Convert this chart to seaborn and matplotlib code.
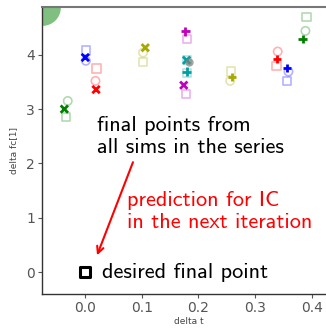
import matplotlib
matplotlib.use("Agg")
import matplotlib.pyplot as plt
import seaborn as sns
import pandas as pd

sns.set_theme(style="ticks")

# ---- data ----
series_colors = ["g", "b", "r", "y", "m", "c"]
palette = {"g": "#008000", "b": "#0000ff", "r": "#ff0000",
           "y": "#a8a800", "m": "#bf00bf", "c": "#00a0a0"}

# first set of sims (final points drawn as 'x')
x_final_x = [-0.037, 0.000, 0.019, 0.106, 0.174, 0.179]
y_final_x = [3.00, 3.95, 3.36, 4.13, 3.44, 3.90]
# second set of sims (final points drawn as '+')
x_final_p = [0.384, 0.357, 0.339, 0.259, 0.177, 0.179]
y_final_p = [4.29, 3.76, 3.92, 3.59, 4.43, 3.69]

# light open circles
circ_colors = ["g", "b", "r", "y", "g", "b", "r", "y"]
x_circ = [-0.031, 0.001, 0.018, 0.102, 0.389, 0.359, 0.340, 0.256]
y_circ = [3.15, 3.89, 3.52, 4.04, 4.44, 3.69, 4.06, 3.52]

# light open squares
sq_colors = ["g", "b", "r", "y", "m", "c", "g", "b", "r", "y", "m", "c"]
x_sq = [-0.034, 0.001, 0.020, 0.102, 0.178, 0.180, 0.391, 0.356, 0.338, 0.257, 0.180, 0.180]
y_sq = [2.86, 4.08, 3.75, 3.87, 3.28, 3.90, 4.70, 3.52, 3.79, 3.69, 4.29, 3.67]

# gray mean point
x_mean = [0.184]
y_mean = [3.86]

# desired final point
x_target = [0.0]
y_target = [0.0]

# big green circle in the corner
x_big = [-0.0765]
y_big = [4.88]

xlim = (-0.0765, 0.443)
ylim = (-0.41, 4.88)
xticks = [0.0, 0.1, 0.2, 0.3, 0.4]
yticks = [0, 1, 2, 3, 4]

fig = plt.figure(figsize=(3.26, 3.29), dpi=100)
ax = fig.add_axes([42 / 326, 34.7 / 329, 294 / 326, 287.3 / 329])

sns.scatterplot(x=x_big, y=y_big, color="#008000", alpha=0.5, s=700, linewidth=0,
                ax=ax, legend=False, zorder=1)

df_c = pd.DataFrame({"x": x_circ, "y": y_circ, "col": circ_colors})
sns.scatterplot(data=df_c, x="x", y="y", hue="col", palette=palette, marker="o",
                s=36, alpha=0.3, ax=ax, legend=False, zorder=2)
coll = ax.collections[-1]
coll.set_edgecolor(coll.get_facecolor())
coll.set_facecolor("none")
coll.set_linewidth(1.2)

df_s = pd.DataFrame({"x": x_sq, "y": y_sq, "col": sq_colors})
sns.scatterplot(data=df_s, x="x", y="y", hue="col", palette=palette, marker="s",
                s=36, alpha=0.3, ax=ax, legend=False, zorder=2)
coll = ax.collections[-1]
coll.set_edgecolor(coll.get_facecolor())
coll.set_facecolor("none")
coll.set_linewidth(1.2)

df_x = pd.DataFrame({"x": x_final_x, "y": y_final_x, "col": series_colors})
sns.scatterplot(data=df_x, x="x", y="y", hue="col", palette=palette, marker="x",
                s=28, linewidth=2.0, ax=ax, legend=False, zorder=3)

df_p = pd.DataFrame({"x": x_final_p, "y": y_final_p, "col": series_colors})
sns.scatterplot(data=df_p, x="x", y="y", hue="col", palette=palette, marker="+",
                s=36, linewidth=2.0, ax=ax, legend=False, zorder=3)

sns.scatterplot(x=x_mean, y=y_mean, color="gray", alpha=0.7, s=36, linewidth=0,
                ax=ax, legend=False, zorder=4)

sns.scatterplot(x=x_target, y=y_target, marker="s", s=50, facecolor="white",
                edgecolor="black", linewidth=2.2, ax=ax, legend=False, zorder=5)

ax.text(0.020, 2.88, "final points from\nall sims in the series", fontsize=16,
        family="cmss10", color="black", va="top", ha="left", linespacing=1.2)
ax.text(0.073, 1.49, "prediction for IC\nin the next iteration", fontsize=16,
        family="cmss10", color="red", va="top", ha="left", linespacing=1.2)
ax.text(0.029, 0.0, "desired final point", fontsize=16, family="cmss10",
        color="black", va="center", ha="left")
ax.annotate("", xy=(0.019, 0.26), xytext=(0.086, 2.07),
            arrowprops=dict(arrowstyle="->", color="red", lw=1.5))

ax.set_xlim(*xlim)
ax.set_ylim(*ylim)
ax.set_xticks(xticks)
ax.set_yticks(yticks)
ax.set_xlabel("delta t", fontsize=6.5, color="#444444", labelpad=1)
ax.set_ylabel("delta fc[1]", fontsize=6.5, color="#444444", labelpad=6)
ax.tick_params(labelsize=10, colors="#555555", length=3, width=0.8, pad=2)
for side in ["left", "bottom"]:
    ax.spines[side].set_color("#333333")
    ax.spines[side].set_linewidth(1.0)
ax.spines["top"].set_visible(True)
ax.spines["top"].set_color("#777777")
ax.spines["top"].set_linewidth(1.5)
ax.spines["right"].set_visible(True)
ax.spines["right"].set_color("#777777")

fig.savefig("out.png", dpi=100)
